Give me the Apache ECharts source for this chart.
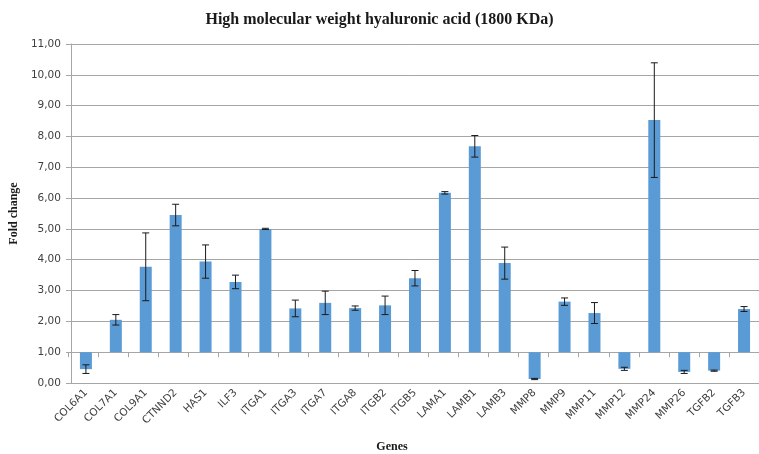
<!DOCTYPE html>
<html>
<head>
<meta charset="utf-8">
<script src="https://cdn.jsdelivr.net/npm/echarts@6/dist/echarts.min.js"></script>
<style>
  html, body { margin: 0; padding: 0; background: #fff; }
  #chart { width: 759px; height: 454px; }
</style>
</head>
<body>
<div id="chart"></div>
<script>
var genes = ['COL6A1', 'COL7A1', 'COL9A1', 'CTNND2', 'HAS1', 'ILF3', 'ITGA1', 'ITGA3',
  'ITGA7', 'ITGA8', 'ITGB2', 'ITGB5', 'LAMA1', 'LAMB1', 'LAMB3', 'MMP8', 'MMP9',
  'MMP11', 'MMP12', 'MMP24', 'MMP26', 'TGFB2', 'TGFB3'];
var foldChange = [0.45, 2.05, 3.77, 5.45, 3.94, 3.28, 5.00, 2.42, 2.60, 2.43, 2.52, 3.40,
  6.17, 7.68, 3.89, 0.13, 2.64, 2.27, 0.46, 8.53, 0.36, 0.40, 2.40];
var errors = [0.14, 0.17, 1.10, 0.35, 0.54, 0.22, 0.02, 0.27, 0.38, 0.07, 0.30, 0.25,
  0.04, 0.35, 0.52, 0.02, 0.12, 0.34, 0.05, 1.86, 0.05, 0.02, 0.08];
var baseLine = 1; // bars grow from 1,00

// bars start at 1: invisible base + visible part
var baseData = foldChange.map(function (v) { return Math.min(v, baseLine); });
var barData = foldChange.map(function (v) { return Math.abs(v - baseLine); });
var errData = foldChange.map(function (v, i) { return [i, v - errors[i], v + errors[i]]; });

var gray = '#a6a6a6';
var myChart = echarts.init(document.getElementById('chart'));
var option = {
  animation: false,
  title: {
    text: 'High molecular weight hyaluronic acid (1800 KDa)',
    left: 'center',
    top: 7,
    textStyle: { fontFamily: 'Liberation Serif', fontWeight: 'bold', fontSize: 16, color: '#1a1a1a' }
  },
  graphic: [{
    type: 'text',
    x: 392, y: 447,
    style: {
      text: 'Genes', textAlign: 'center', textVerticalAlign: 'middle',
      fontFamily: 'Liberation Serif', fontWeight: 'bold', fontSize: 12, fill: '#1a1a1a'
    }
  }],
  grid: [
    { left: 68, top: 44, width: 699, height: 339 },
    { left: 68, top: 44, width: 699, height: 339 * 10 / 11 }
  ],
  xAxis: [{
    type: 'category',
    gridIndex: 0,
    data: genes,
    axisLine: { lineStyle: { color: gray } },
    axisTick: { show: false },
    axisLabel: {
      rotate: 45, margin: 8, interval: 0,
      fontFamily: 'DejaVu Sans', fontSize: 10.5, color: '#404040'
    }
  }, {
    type: 'category',
    gridIndex: 1,
    data: genes,
    axisLine: { lineStyle: { color: gray } },
    axisTick: { show: true, interval: 0, length: 5, lineStyle: { color: gray } },
    axisLabel: { show: false, interval: 0 }
  }],
  yAxis: [{
    type: 'value',
    gridIndex: 0,
    min: 0, max: 11, interval: 1,
    name: 'Fold change',
    nameLocation: 'middle',
    nameGap: 49,
    nameTextStyle: { fontFamily: 'Liberation Serif', fontWeight: 'bold', fontSize: 12, color: '#1a1a1a' },
    axisLine: { show: true, lineStyle: { color: gray } },
    axisTick: { show: true, length: 5, lineStyle: { color: gray } },
    splitLine: { lineStyle: { color: gray } },
    axisLabel: {
      margin: 10, fontFamily: 'DejaVu Sans', fontSize: 10.5, color: '#404040',
      formatter: function (v) { return v.toFixed(2).replace('.', ','); }
    }
  }, {
    type: 'value',
    gridIndex: 1,
    min: 1, max: 11,
    show: false
  }],
  series: [{
    name: 'base',
    type: 'bar',
    stack: 'fc',
    barWidth: 12,
    itemStyle: { color: 'transparent' },
    data: baseData
  }, {
    name: 'Fold change',
    type: 'bar',
    stack: 'fc',
    barWidth: 12,
    itemStyle: { color: '#5b9bd5' },
    data: barData
  }, {
    name: 'error',
    type: 'custom',
    data: errData,
    z: 10,
    renderItem: function (params, api) {
      var x = api.value(0);
      var lo = api.coord([x, api.value(1)]);
      var hi = api.coord([x, api.value(2)]);
      var w = 3.5;
      var st = { stroke: '#1a1a1a', lineWidth: 1 };
      return {
        type: 'group',
        children: [
          { type: 'line', shape: { x1: hi[0], y1: hi[1], x2: lo[0], y2: lo[1] }, style: st },
          { type: 'line', shape: { x1: hi[0] - w, y1: hi[1], x2: hi[0] + w, y2: hi[1] }, style: st },
          { type: 'line', shape: { x1: lo[0] - w, y1: lo[1], x2: lo[0] + w, y2: lo[1] }, style: st }
        ]
      };
    }
  }]
};
myChart.setOption(option);
window.addEventListener('resize', function () {
  myChart.resize();
});
</script>
</body>
</html>
